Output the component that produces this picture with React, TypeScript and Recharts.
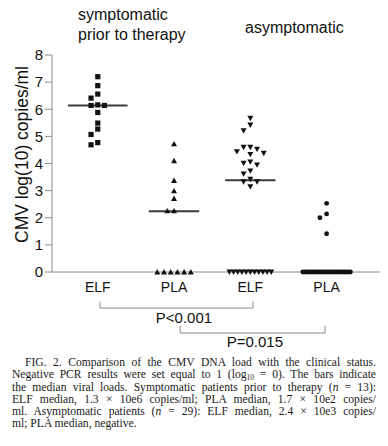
import React from 'react'
import {
  ScatterChart,
  Scatter,
  XAxis,
  YAxis,
  ReferenceLine,
  ReferenceDot
} from 'recharts'

// values, log10 copies/ml (0 = negative PCR)
const categories = ['ELF', 'PLA', 'ELF', 'PLA']
const yTicks = [0, 1, 2, 3, 4, 5, 6, 7, 8]

const symptomaticElf = [7.2, 6.87, 6.56, 6.41, 6.16, 6.14, 6.14, 5.88, 5.49, 5.27, 5.07, 4.77, 4.69]
const symptomaticPla = [4.72, 4.1, 3.37, 2.99, 2.71, 2.25, 2.25, 0, 0, 0, 0, 0, 0]
const asymptomaticElf = [
  5.67, 5.42, 5.21, 4.6, 4.6, 4.53, 4.44, 4.38, 4.34, 4.06, 4.01, 3.95, 3.73, 3.62, 3.42, 3.33, 3.33, 3.15,
  0, 0, 0, 0, 0, 0, 0, 0, 0, 0, 0
]
const asymptomaticPla = [
  2.53, 2.14, 2.0, 1.41,
  0, 0, 0, 0, 0, 0, 0, 0, 0, 0, 0, 0, 0, 0, 0, 0, 0, 0, 0, 0, 0, 0, 0, 0, 0
]
const medians = [6.14, 2.24, 3.38, null]

const comparisons = [
  { from: 1, to: 3, label: 'P<0.001' },
  { from: 2, to: 4, label: 'P=0.015' }
]

// layout / styling
const SLOT = 0.088 // horizontal step between swarm columns (x units)
const GAP = 0.22 // vertical distance below which points collide (y units)
const ZERO_STEP = [0, 0.088, 0.055, 0.026]
const MEDIAN_HALF = [0.39, 0.33, 0.33, 0.33]
const MARKERS = ['square', 'triangle', 'down', 'circle']
const BRACKETS = [
  { top: -1.09, bottom: -1.33, text: -1.7, x0: 0.03, x1: 0.035, tx: 2.13 },
  { top: -1.99, bottom: -2.25, text: -2.58, x0: 0.08, x1: -0.02, tx: 3.06 }
]
const AXIS = '#8a8a8a'
const INK = '#111'
const SANS = '"Liberation Sans", Arial, Helvetica, sans-serif'

const groups = [symptomaticElf, symptomaticPla, asymptomaticElf, asymptomaticPla]

// simple beeswarm: nonzero values go into the nearest free column, zeros in a centred row
function swarm(values: number[], center: number, zeroStep: number) {
  const placed: { slot: number; y: number }[] = []
  const nonZero = values.filter(v => v !== 0).sort((a, b) => b - a)
  for (const v of nonZero) {
    for (let k = 0; ; k++) {
      const slot = k % 2 ? -(k + 1) / 2 : k / 2
      if (!placed.some(p => p.slot === slot && Math.abs(p.y - v) < GAP)) {
        placed.push({ slot, y: v })
        break
      }
    }
  }
  const pts = placed.map(p => ({ x: center + p.slot * SLOT, y: p.y }))
  const zeros = values.filter(v => v === 0)
  zeros.forEach((_, i) => {
    pts.push({ x: center + (i - (zeros.length - 1) / 2) * zeroStep, y: 0 })
  })
  return pts
}

const Marker = ({ cx, cy, kind }: { cx?: number; cy?: number; kind: string }) => {
  if (cx == null || cy == null) return null
  if (kind === 'square') return <rect x={cx - 2.6} y={cy - 2.6} width={5.2} height={5.2} fill={INK} />
  if (kind === 'triangle')
    return <polygon points={`${cx},${cy - 3} ${cx + 3},${cy + 2.4} ${cx - 3},${cy + 2.4}`} fill={INK} />
  if (kind === 'down')
    return <polygon points={`${cx},${cy + 3} ${cx + 3},${cy - 2.4} ${cx - 3},${cy - 2.4}`} fill={INK} />
  return <circle cx={cx} cy={cy} r={2.4} fill={INK} />
}

const sub = { fontSize: 7.5, position: 'relative' as const, top: 1.5 }

const captionLines = [
  <>FIG. 2. Comparison of the CMV DNA load with the clinical status.</>,
  <>
    Negative PCR results were set equal to 1 (log<span style={sub}>10</span> = 0). The bars indicate
  </>,
  <>
    the median viral loads. Symptomatic patients prior to therapy (<i>n</i> = 13):
  </>,
  <>ELF median, 1.3 × 10e6 copies/ml; PLA median, 1.7 × 10e2 copies/</>,
  <>
    ml. Asymptomatic patients (<i>n</i> = 29): ELF median, 2.4 × 10e3 copies/
  </>,
  <>ml; PLA median, negative.</>
]

export default function App() {
  return (
    <div
      style={{
        position: 'absolute',
        left: 0,
        top: 0,
        width: 388,
        height: 446,
        background: '#fff',
        fontFamily: SANS,
        color: INK,
        overflow: 'hidden'
      }}
    >
      <div style={{ position: 'absolute', left: 78, top: 5, fontSize: 16, lineHeight: '20px' }}>
        symptomatic
        <br />
        prior to therapy
      </div>
      <div style={{ position: 'absolute', left: 245, top: 18, fontSize: 16, lineHeight: '20px' }}>asymptomatic</div>

      <div style={{ position: 'absolute', left: 0, top: 0 }}>
        <ScatterChart width={388} height={360} margin={{ top: 55, right: 8, bottom: 58, left: 0 }}>
          <XAxis
            type="number"
            dataKey="x"
            domain={[0.4, 4.7]}
            ticks={[1, 2, 3, 4]}
            tickFormatter={(v: number) => categories[v - 1]}
            allowDataOverflow
            height={30}
            stroke={AXIS}
            tickLine={false}
            tickSize={0}
            tickMargin={10}
            tick={{ fill: INK, fontSize: 14, fontFamily: SANS }}
          />
          <YAxis
            type="number"
            dataKey="y"
            domain={[0, 8]}
            ticks={yTicks}
            width={52}
            stroke={AXIS}
            tickSize={7}
            tickMargin={2}
            tick={{ fill: INK, fontSize: 15, fontFamily: SANS }}
            label={{
              value: 'CMV log(10) copies/ml',
              angle: -90,
              position: 'center',
              dx: -4,
              dy: -9,
              fill: INK,
              fontSize: 17.5,
              fontFamily: SANS
            }}
          />
          {groups.map((vals, g) => (
            <Scatter
              key={g}
              data={swarm(vals, g + 1, ZERO_STEP[g])}
              isAnimationActive={false}
              shape={(p: any) => <Marker cx={p.cx} cy={p.cy} kind={MARKERS[g]} />}
            />
          ))}
          {medians.map((m, g) =>
            m == null ? null : (
              <ReferenceLine
                key={`med-${g}`}
                segment={[
                  { x: g + 1 - MEDIAN_HALF[g], y: m },
                  { x: g + 1 + MEDIAN_HALF[g], y: m }
                ]}
                stroke="#3a3a3a"
                strokeWidth={2}
                ifOverflow="visible"
              />
            )
          )}
          {comparisons.map((c, i) => {
            const b = BRACKETS[i]
            const a = c.from + b.x0
            const z = c.to + b.x1
            return [
              <ReferenceLine
                key={`bl-${i}`}
                segment={[{ x: a, y: b.top }, { x: a, y: b.bottom }]}
                stroke={AXIS}
                ifOverflow="visible"
              />,
              <ReferenceLine
                key={`bh-${i}`}
                segment={[{ x: a, y: b.bottom }, { x: z, y: b.bottom }]}
                stroke={AXIS}
                ifOverflow="visible"
              />,
              <ReferenceLine
                key={`br-${i}`}
                segment={[{ x: z, y: b.top }, { x: z, y: b.bottom }]}
                stroke={AXIS}
                ifOverflow="visible"
              />,
              <ReferenceDot
                key={`bt-${i}`}
                x={b.tx}
                y={b.text}
                r={0}
                fill="none"
                stroke="none"
                ifOverflow="visible"
                label={{ value: c.label, position: 'center', fill: INK, fontSize: 15, fontFamily: SANS }}
              />
            ]
          })}
        </ScatterChart>
      </div>

      <div
        style={{
          position: 'absolute',
          left: 12,
          top: 357,
          width: 364,
          fontFamily: '"Liberation Serif", "Times New Roman", serif',
          fontSize: 11.6,
          lineHeight: '12.3px',
          color: '#1a1a1a'
        }}
      >
        {captionLines.map((line, i) => (
          <div
            key={i}
            style={{
              whiteSpace: 'nowrap',
              height: 12.3,
              textAlign: 'justify',
              textAlignLast: i === captionLines.length - 1 ? 'left' : 'justify',
              paddingLeft: i === 0 ? 13 : 0
            }}
          >
            {line}
          </div>
        ))}
      </div>
    </div>
  )
}
